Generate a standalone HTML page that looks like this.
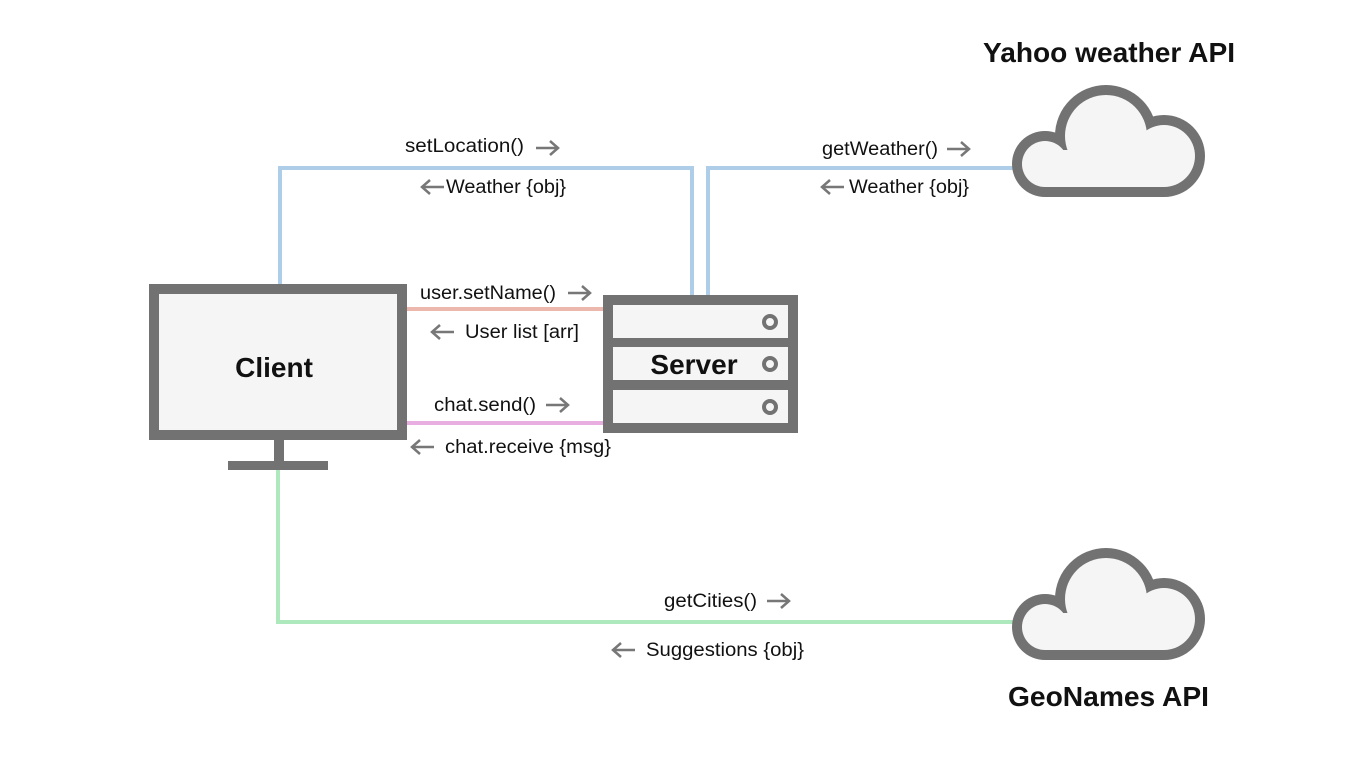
<!DOCTYPE html>
<html><head><meta charset="utf-8"><style>
html,body{margin:0;padding:0;background:#fff;}
svg{display:block;}
text{font-family:"Liberation Sans",sans-serif;fill:#111;}
.l{font-size:19px;}
.t{font-size:28px;font-weight:bold;}
</style></head><body>
<svg width="1366" height="768" viewBox="0 0 1366 768">
<defs>
<g id="ra"><line x1="0" y1="0" x2="22" y2="0" stroke="#777" stroke-width="2.5"/><polyline points="14,-7 22,0 14,7" fill="none" stroke="#777" stroke-width="2.5"/></g>
<g id="la"><line x1="0" y1="0" x2="22" y2="0" stroke="#777" stroke-width="2.5"/><polyline points="8,-7 0,0 8,7" fill="none" stroke="#777" stroke-width="2.5"/></g>
<g id="cloud">
<circle cx="1045" cy="164" r="33" fill="#727272"/>
<circle cx="1164" cy="156" r="41" fill="#727272"/>
<circle cx="1106" cy="136" r="51" fill="#727272"/>
<rect x="1045" y="150" width="119" height="47" fill="#727272"/>
<circle cx="1045" cy="164" r="23" fill="#f5f5f5"/>
<circle cx="1164" cy="156" r="31" fill="#f5f5f5"/>
<circle cx="1106" cy="136" r="41" fill="#f5f5f5"/>
<rect x="1045" y="150" width="119" height="37" fill="#f5f5f5"/>
</g>
</defs>
<polyline points="280,284 280,168 692,168 692,295" fill="none" stroke="#aecde8" stroke-width="4"/>
<polyline points="708,295 708,168 1015,168" fill="none" stroke="#aecde8" stroke-width="4"/>
<line x1="405" y1="309" x2="603" y2="309" stroke="#ecb8ad" stroke-width="4"/>
<line x1="405" y1="423" x2="603" y2="423" stroke="#e8aee0" stroke-width="4"/>
<polyline points="278,470 278,622 1015,622" fill="none" stroke="#aee8bd" stroke-width="4"/>
<rect x="154" y="289" width="248" height="146" fill="#f5f5f5" stroke="#727272" stroke-width="10"/>
<rect x="274" y="440" width="10" height="22" fill="#727272"/>
<rect x="228" y="461" width="100" height="9" fill="#727272"/>
<text x="274" y="377" class="t" text-anchor="middle">Client</text>
<rect x="603" y="295" width="195" height="138" fill="#727272"/>
<rect x="613" y="305" width="175" height="33" fill="#f5f5f5"/>
<rect x="613" y="347" width="175" height="33" fill="#f5f5f5"/>
<rect x="613" y="390" width="175" height="33" fill="#f5f5f5"/>
<circle cx="770" cy="322" r="6" fill="none" stroke="#727272" stroke-width="4"/>
<circle cx="770" cy="364" r="6" fill="none" stroke="#727272" stroke-width="4"/>
<circle cx="770" cy="407" r="6" fill="none" stroke="#727272" stroke-width="4"/>
<text x="694" y="374" class="t" text-anchor="middle">Server</text>
<use href="#cloud"/>
<use href="#cloud" transform="translate(0,463)"/>
<text x="983" y="62" class="t" textLength="252" lengthAdjust="spacingAndGlyphs">Yahoo weather API</text>
<text x="1008" y="706" class="t" textLength="201" lengthAdjust="spacingAndGlyphs">GeoNames API</text>
<text x="405" y="152" class="l" textLength="119" lengthAdjust="spacingAndGlyphs">setLocation()</text><use href="#ra" x="536" y="148"/>
<use href="#la" x="422" y="187"/><text x="446" y="193" class="l" textLength="120" lengthAdjust="spacingAndGlyphs">Weather {obj}</text>
<text x="822" y="155" class="l" textLength="116" lengthAdjust="spacingAndGlyphs">getWeather()</text><use href="#ra" x="947" y="149"/>
<use href="#la" x="822" y="187"/><text x="849" y="193" class="l" textLength="120" lengthAdjust="spacingAndGlyphs">Weather {obj}</text>
<text x="420" y="299" class="l" textLength="136" lengthAdjust="spacingAndGlyphs">user.setName()</text><use href="#ra" x="568" y="293"/>
<use href="#la" x="432" y="332"/><text x="465" y="338" class="l" textLength="114" lengthAdjust="spacingAndGlyphs">User list [arr]</text>
<text x="434" y="411" class="l" textLength="102" lengthAdjust="spacingAndGlyphs">chat.send()</text><use href="#ra" x="546" y="405"/>
<use href="#la" x="412" y="447"/><text x="445" y="453" class="l" textLength="166" lengthAdjust="spacingAndGlyphs">chat.receive {msg}</text>
<text x="664" y="607" class="l" textLength="93" lengthAdjust="spacingAndGlyphs">getCities()</text><use href="#ra" x="767" y="601"/>
<use href="#la" x="613" y="650"/><text x="646" y="656" class="l" textLength="158" lengthAdjust="spacingAndGlyphs">Suggestions {obj}</text>
</svg>
</body></html>
